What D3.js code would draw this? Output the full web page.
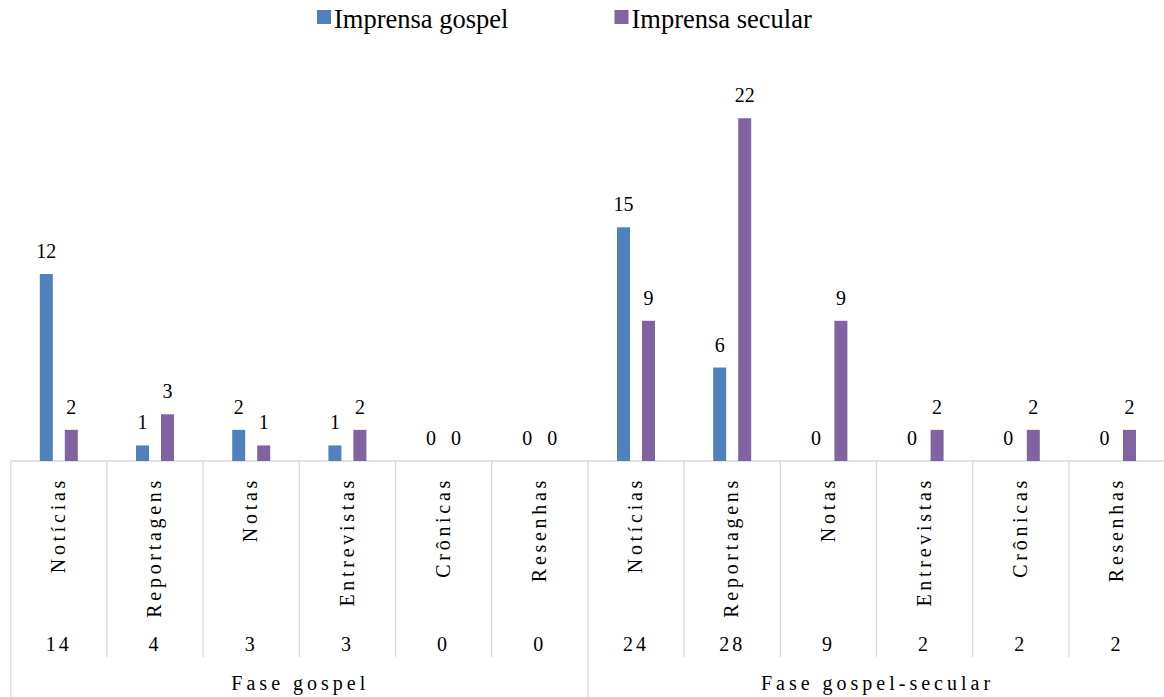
<!DOCTYPE html>
<html>
<head>
<meta charset="utf-8">
<script src="https://cdn.jsdelivr.net/npm/d3@7"></script>
</head>
<body style="margin:0;padding:0;background:#fff">
<svg id="chart" width="1164" height="697" style="display:block"></svg>
<script>
const categories = ["Notícias","Reportagens","Notas","Entrevistas","Crônicas","Resenhas",
                    "Notícias","Reportagens","Notas","Entrevistas","Crônicas","Resenhas"];
const groups = ["Fase gospel", "Fase gospel-secular"];
const gospel  = [12, 1, 2, 1, 0, 0, 15, 6, 0, 0, 0, 0];
const secular = [ 2, 3, 1, 2, 0, 0,  9, 22, 9, 2, 2, 2];
const totals  = [14, 4, 3, 3, 0, 0, 24, 28, 9, 2, 2, 2];
const seriesNames = ["Imprensa gospel", "Imprensa secular"];
const colors = ["#4f81bd", "#8064a2"];

const FONT = '"Liberation Serif", serif';
const svg = d3.select("#chart");
const idx = d3.range(categories.length);
const x = d3.scaleBand().domain(idx).range([10.7, 1165.1]).padding(0);
const y = d3.scaleLinear().domain([0, 25]).range([461, 71.5]);
const axisY = y(0);
const gridColor = "#d9d9d9";
const barW = 13, off = 12.5;

function txt(sel) {
  return sel.attr("font-family", "Liberation Serif").style("font-family", FONT);
}

// axis line
svg.append("line").attr("x1", x.range()[0]).attr("x2", 1164)
  .attr("y1", axisY).attr("y2", axisY).attr("stroke", gridColor).attr("stroke-width", 1.3);

// category separators
const bounds = idx.map(i => x(i)).concat([x.range()[1]]);
svg.append("g").selectAll("line").data(bounds).join("line")
  .attr("x1", d => d).attr("x2", d => d)
  .attr("y1", axisY).attr("y2", 657)
  .attr("stroke", gridColor).attr("stroke-width", 1.3);
// group separators
const gBounds = [x(0), x(6), x.range()[1]];
svg.append("g").selectAll("line").data(gBounds).join("line")
  .attr("x1", d => d).attr("x2", d => d)
  .attr("y1", 657).attr("y2", 697)
  .attr("stroke", gridColor).attr("stroke-width", 1.3);

const series = [gospel, secular];
series.forEach((vals, s) => {
  const dx = s === 0 ? -off : off;
  svg.append("g").selectAll("rect").data(idx).join("rect")
    .attr("x", i => x(i) + x.bandwidth() / 2 + dx - barW / 2)
    .attr("width", barW)
    .attr("y", i => y(vals[i]))
    .attr("height", i => axisY - y(vals[i]))
    .attr("fill", colors[s]);
  txt(svg.append("g").selectAll("text").data(idx).join("text"))
    .attr("x", i => x(i) + x.bandwidth() / 2 + dx)
    .attr("y", i => y(vals[i]) - 16)
    .attr("text-anchor", "middle")
    .attr("font-size", 20)
    .attr("fill", "#000")
    .text(i => vals[i]);
});

// category labels (rotated)
txt(svg.append("g").selectAll("text").data(idx).join("text"))
  .attr("transform", i => `translate(${x(i) + x.bandwidth() / 2 - 0.5},477) rotate(-90)`)
  .attr("text-anchor", "end")
  .attr("dy", "0.33em")
  .attr("font-size", 20)
  .attr("letter-spacing", 3.7)
  .attr("fill", "#000")
  .text(i => categories[i]);

// totals row
txt(svg.append("g").selectAll("text").data(idx).join("text"))
  .attr("x", i => x(i) + x.bandwidth() / 2)
  .attr("y", 651)
  .attr("text-anchor", "middle")
  .attr("font-size", 20)
  .attr("letter-spacing", 3)
  .attr("fill", "#000")
  .text(i => totals[i]);

// group labels
txt(svg.append("g").selectAll("text").data(groups).join("text"))
  .attr("x", (d, g) => (gBounds[g] + gBounds[g + 1]) / 2 + 1)
  .attr("y", 690)
  .attr("text-anchor", "middle")
  .attr("font-size", 20)
  .attr("letter-spacing", 4)
  .attr("fill", "#000")
  .text(d => d);

// legend
const legX = [317, 614.5];
const leg = svg.append("g").selectAll("g").data(seriesNames).join("g")
  .attr("transform", (d, i) => `translate(${legX[i]},0)`);
leg.append("rect").attr("x", 0).attr("y", 10).attr("width", 14).attr("height", 14)
  .attr("fill", (d, i) => colors[i]);
txt(leg.append("text")).attr("x", 17).attr("y", 27.5)
  .attr("font-size", 26.5).attr("fill", "#000").text(d => d);
</script>
</body>
</html>
